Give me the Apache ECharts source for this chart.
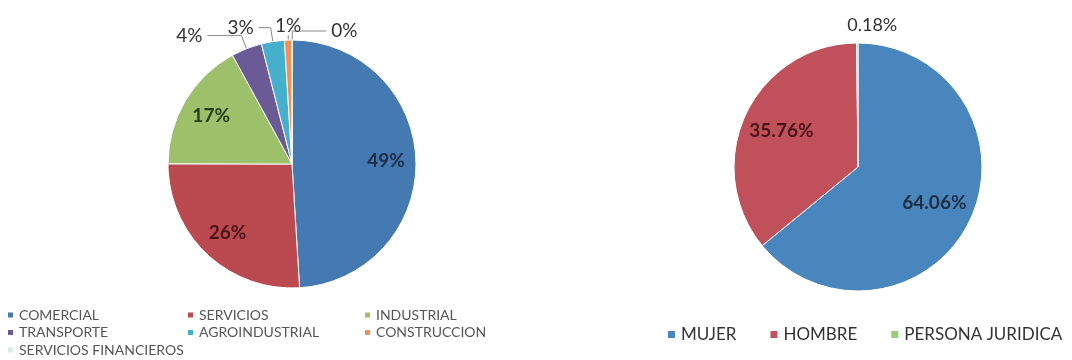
<!DOCTYPE html>
<html><head><meta charset="utf-8">
<script src="https://cdn.jsdelivr.net/npm/echarts@6/dist/echarts.min.js"></script>
<style>html,body{margin:0;padding:0;background:#fff}#c{width:1072px;height:360px}</style>
</head><body><div id="c"></div>
<script>
// Left pie: sectors
const sectorNames = ['COMERCIAL','SERVICIOS','INDUSTRIAL','TRANSPORTE','AGROINDUSTRIAL','CONSTRUCCION','SERVICIOS FINANCIEROS'];
const sectorValues = [49, 26, 17, 4, 3, 1, 0];
// Right pie: gender
const genderNames = ['MUJER','HOMBRE','PERSONA JURIDICA'];
const genderValues = [64.06, 35.76, 0.18];

const FONT = 'Lato, "Open Sans", sans-serif';
const sectorColors = ['#4579B2','#BB4A50','#9DC16B','#6A5A96','#45AFCC','#F0915A','#D4EEF0'];
const sectorLabelColors = ['#1E2E45','#4A1418','#23401A'];
const genderColors = ['#4A86BE','#C0505A','#9BCB7A'];
const genderLabelColors = ['#1E2E45','#4A1418'];

const outsideLine = [
  null, null, null,
  {length: 14, length2: 34},
  {length: 14, length2: 12},
  {length: 5, length2: 0},
  {length: 9, length2: 34}
];

const leftData = sectorNames.map((n, i) => {
  const o = {name: n, value: sectorValues[i], itemStyle: {color: sectorColors[i]}};
  if (outsideLine[i]) {
    o.label = {show: true, position: 'outside'};
    o.labelLine = Object.assign({show: true}, outsideLine[i]);
  } else {
    o.label = {show: false};
    o.labelLine = {show: false};
  }
  return o;
});
const leftInner = sectorNames.map((n, i) => ({
  name: n, value: sectorValues[i],
  label: i < 3 ? {show: true, color: sectorLabelColors[i]} : {show: false}
}));
const rightData = genderNames.map((n, i) => ({
  name: n, value: genderValues[i], itemStyle: {color: genderColors[i]},
  label: i === 2 ? {show: true, position: 'outside'} : {show: false},
  labelLine: i === 2 ? {show: false, length: 9, length2: 0} : {show: false}
}));
const rightInner = genderNames.map((n, i) => ({
  name: n, value: genderValues[i],
  label: i < 2 ? {show: true, color: genderLabelColors[i]} : {show: false}
}));

const pctRound = p => Math.round(p.percent) + '%';
const pct2 = p => p.value.toFixed(2) + '%';
const legendText = {fontSize: 14, lineHeight: 14, color: '#555', fontFamily: FONT};

const chart = echarts.init(document.getElementById('c'), null, {renderer: 'canvas'});
chart.setOption({
  animation: false,
  textStyle: {fontFamily: FONT},
  legend: [
    {left: 6, top: 308, padding: 0, orient: 'vertical', itemGap: 3.5, itemWidth: 7, itemHeight: 7, icon: 'rect',
     data: ['COMERCIAL','TRANSPORTE','SERVICIOS FINANCIEROS'], textStyle: legendText},
    {left: 186, top: 308, padding: 0, orient: 'vertical', itemGap: 3.5, itemWidth: 7, itemHeight: 7, icon: 'rect',
     data: ['SERVICIOS','AGROINDUSTRIAL'], textStyle: legendText},
    {left: 363, top: 308, padding: 0, orient: 'vertical', itemGap: 3.5, itemWidth: 7, itemHeight: 7, icon: 'rect',
     data: ['INDUSTRIAL','CONSTRUCCION'], textStyle: legendText},
    {left: 661, top: 321, orient: 'horizontal', itemGap: 32, itemWidth: 9, itemHeight: 9, icon: 'rect',
     data: genderNames, textStyle: {fontSize: 17, color: '#333', fontFamily: FONT}}
  ],
  series: [
    {type: 'pie', center: [292, 164], radius: [0, 124], startAngle: 89.9, clockwise: true,
     avoidLabelOverlap: false, data: leftData,
     itemStyle: {borderColor: '#fff', borderWidth: 1},
     label: {formatter: pctRound, fontSize: 19, color: '#333', fontFamily: FONT},
     labelLine: {lineStyle: {color: '#888', width: 1}},
     labelLayout: p => p.dataIndex === 5 ? {align: 'center', verticalAlign: 'bottom', dx: 5} : {},
     emphasis: {disabled: true}},
    {type: 'pie', center: [292, 164], radius: [0, 182], startAngle: 89.9, clockwise: true, silent: true,
     avoidLabelOverlap: false, data: leftInner, legendHoverLink: false,
     itemStyle: {color: 'rgba(0,0,0,0)'},
     label: {position: 'inside', formatter: pctRound, fontSize: 19, fontWeight: 'bold', fontFamily: FONT},
     labelLine: {show: false}, emphasis: {disabled: true}},
    {type: 'pie', center: [858, 167], radius: [0, 124], startAngle: 90, clockwise: true,
     avoidLabelOverlap: false, data: rightData,
     itemStyle: {borderColor: '#fff', borderWidth: 1},
     label: {formatter: pct2, fontSize: 18, color: '#333', fontFamily: FONT},
     labelLayout: p => p.dataIndex === 2 ? {align: 'center', verticalAlign: 'bottom', dx: 20} : {},
     emphasis: {disabled: true}},
    {type: 'pie', center: [858, 167], radius: [0, 163], startAngle: 90, clockwise: true, silent: true,
     avoidLabelOverlap: false, data: rightInner, legendHoverLink: false,
     itemStyle: {color: 'rgba(0,0,0,0)'},
     label: {position: 'inside', formatter: pct2, fontSize: 19, fontWeight: 'bold', fontFamily: FONT},
     labelLine: {show: false}, emphasis: {disabled: true}}
  ]
});
</script></body></html>
